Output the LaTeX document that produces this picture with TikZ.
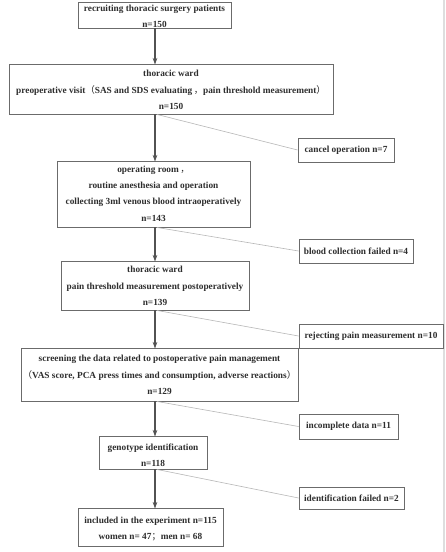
\documentclass[tikz,border=0pt]{standalone}
\usepackage{fontspec}
\setmainfont{Liberation Serif}
\newfontfamily\cjk{Noto Sans CJK SC}
\usetikzlibrary{arrows.meta}
\newcommand\cj[1]{{\cjk\mdseries #1}}
\tikzset{
  box/.style={draw=black!58, line width=0.9pt, inner sep=0pt},
  txt/.style={align=center, inner sep=0pt, text=black!82, font=\fontsize{9.3}{16.4}\selectfont\bfseries},
  arr/.style={draw=black!68, line width=1.1pt, -{Stealth[length=6.5pt,width=4.5pt]}},
  side/.style={draw=black!28, line width=0.6pt},
}
\begin{document}
\begin{tikzpicture}[x=1pt,y=-1pt]
\useasboundingbox (0,0) rectangle (445,552);
\fill[white] (0,0) rectangle (445,552);
\fill[black!13] (443,0) rectangle (445,552);
\coordinate (col) at (155,0);
% main boxes
\node[box, minimum width=153, minimum height=26] (b1) at (154.5,15) {};
\node[txt] (t1) at (154.5,16.5) {recruiting thoracic surgery patients\\ n=150};
\node[box, minimum width=324, minimum height=50] (b2) at (171,89) {};
\node[txt] (t2) at (171,90) {thoracic ward\\ preoperative visit\cj{（}SAS and SDS evaluating\,\cj{，}pain threshold measurement\cj{）}\\ n=150};
\node[box, minimum width=193, minimum height=66] (b3) at (153.5,194) {};
\node[txt] (t3) at (153.5,193.5) {operating room\,\cj{，}\\ routine anesthesia and operation\\ collecting 3ml venous blood intraoperatively\\ n=143};
\node[box, minimum width=188, minimum height=49] (b4) at (155,285.5) {};
\node[txt] (t4) at (155,286) {thoracic ward\\ pain threshold measurement postoperatively\\ n=139};
\node[box, minimum width=277, minimum height=53] (b5) at (159.5,374.5) {};
\node[txt] (t5) at (159.5,375) {screening the data related to postoperative pain management\\ \cj{（}VAS score, PCA press times and consumption, adverse reactions\cj{）}\\ n=129};
\node[box, minimum width=108, minimum height=33] (b6) at (153,452.5) {};
\node[txt] (t6) at (153,455.5) {genotype identification\\ n=118};
\node[box, minimum width=145, minimum height=38] (b7) at (150.5,527) {};
\node[txt] (t7) at (150.5,529) {included in the experiment n=115\\ women n= 47\cj{；}men n= 68};
% side boxes
\node[box, txt, minimum width=96, minimum height=24] (s1) at (346,150) {cancel operation n=7};
\node[box, txt, minimum width=114, minimum height=24] (s2) at (356,251) {blood collection failed n=4};
\node[box, txt, minimum width=144, minimum height=24] (s3) at (371,336) {rejecting pain measurement n=10};
\node[box, txt, minimum width=99, minimum height=25] (s4) at (348.5,426.5) {incomplete data n=11};
\node[box, txt, minimum width=105, minimum height=22] (s5) at (351.5,498) {identification failed n=2};
% side lines
\draw[side] ([xshift=2pt]col |- b2.south) -- (s1.west);
\draw[side] ([xshift=2pt]col |- b3.south) -- (s2.west);
\draw[side] ([xshift=2pt]col |- b4.south) -- (s3.west);
\draw[side] ([xshift=2pt]col |- b5.south) -- (s4.west);
\draw[side] ([xshift=2pt]col |- b6.south) -- (s5.west);
% arrows
\draw[arr] (col |- b1.south) -- ([yshift=-1pt]col |- b2.north);
\draw[arr] (col |- b2.south) -- ([yshift=-1pt]col |- b3.north);
\draw[arr] (col |- b3.south) -- ([yshift=-1pt]col |- b4.north);
\draw[arr] (col |- b4.south) -- ([yshift=-1pt]col |- b5.north);
\draw[arr] (col |- b5.south) -- ([yshift=-1pt]col |- b6.north);
\draw[arr] (col |- b6.south) -- ([yshift=-1pt]col |- b7.north);
\end{tikzpicture}
\end{document}
